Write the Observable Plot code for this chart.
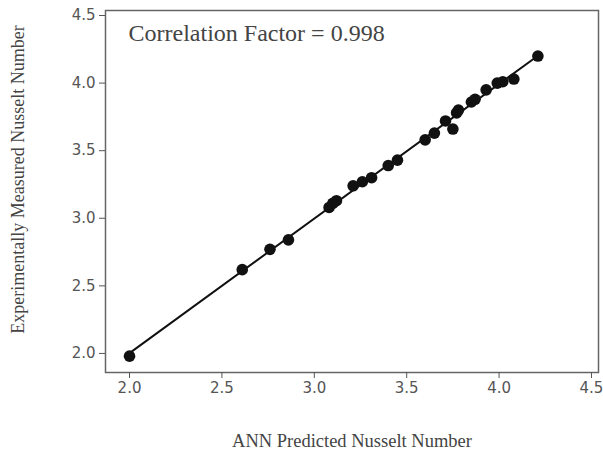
<!DOCTYPE html>
<html><head><meta charset="utf-8">
<script src="https://cdn.jsdelivr.net/npm/d3@7"></script>
<script src="https://cdn.jsdelivr.net/npm/@observablehq/plot@0.6"></script>
<style>body{margin:0;background:#fff}</style>
</head><body><div id="chart"></div>
<script>
const predicted = [2.00, 2.61, 2.76, 2.86, 3.08, 3.10, 3.12, 3.21, 3.26, 3.31, 3.40, 3.45, 3.60, 3.65, 3.71, 3.75, 3.77, 3.78, 3.85, 3.87, 3.93, 3.99, 4.02, 4.08, 4.21];
const measured  = [1.98, 2.62, 2.77, 2.84, 3.08, 3.11, 3.13, 3.24, 3.27, 3.30, 3.39, 3.43, 3.58, 3.63, 3.72, 3.66, 3.78, 3.80, 3.86, 3.88, 3.95, 4.00, 4.01, 4.03, 4.20];
const xTicks = [2.0, 2.5, 3.0, 3.5, 4.0, 4.5];
const yTicks = [2.0, 2.5, 3.0, 3.5, 4.0, 4.5];
const annotation = "Correlation Factor = 0.998";
const xLabel = "ANN Predicted Nusselt Number";
const yLabel = "Experimentally Measured Nusselt Number";

const data = predicted.map((p, i) => ({x: p, y: measured[i]}));

const chart = Plot.plot({
  width: 603, height: 452,
  marginLeft: 105, marginRight: 5, marginTop: 10, marginBottom: 80,
  style: {background: "#fff"},
  x: {domain: [1.87, 4.538]},
  y: {domain: [1.859, 4.537]},
  marks: [
    Plot.frame({stroke: "#666", strokeWidth: 1.5}),
    Plot.axisX({ticks: xTicks, tickFormat: d3.format(".1f"), tickSize: 6, tickPadding: 4, label: null,
      fontSize: 15, fontFamily: "DejaVu Sans", color: "#555"}),
    Plot.axisY({ticks: yTicks, tickFormat: d3.format(".1f"), tickSize: 6, tickPadding: 4, label: null,
      fontSize: 15, fontFamily: "DejaVu Sans", color: "#555"}),
    Plot.linearRegressionY(data, {x: "x", y: "y", ci: 0, stroke: "#111", strokeWidth: 2}),
    Plot.dot(data, {x: "x", y: "y", r: 5.8, fill: "#111", stroke: "none"}),
    Plot.text([annotation], {frameAnchor: "top-left", dx: 23, dy: 23, textAnchor: "start", lineAnchor: "middle",
      fontSize: 24, fontFamily: "Liberation Serif", fill: "#444"}),
    Plot.text([xLabel], {frameAnchor: "bottom", dy: 69, textAnchor: "middle", lineAnchor: "middle",
      fontSize: 18.5, fontFamily: "Liberation Serif", fill: "#444"}),
    Plot.text([yLabel], {frameAnchor: "left", dx: -87, dy: -12, rotate: -90, textAnchor: "middle", lineAnchor: "middle",
      fontSize: 18, fontFamily: "Liberation Serif", fill: "#444"})
  ]
});
document.getElementById("chart").append(chart);
</script>
</body></html>
